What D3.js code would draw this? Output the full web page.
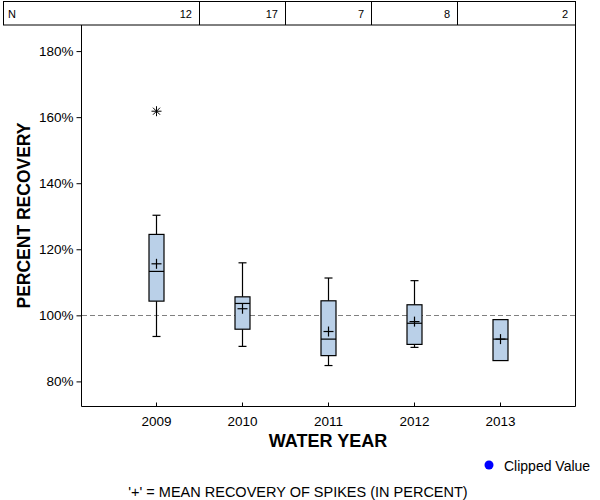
<!DOCTYPE html>
<html><head><meta charset="utf-8">
<script src="https://cdn.jsdelivr.net/npm/d3@7"></script>
<style>body{margin:0;background:#fff}svg{display:block;font-family:"Liberation Sans",Arial,sans-serif}</style>
</head><body><svg id="c" width="600" height="500"></svg>
<script>
const years = ["2009","2010","2011","2012","2013"];
const counts = [12, 17, 7, 8, 2];
const whiskerLow  = [93.6, 90.6, 84.8, 90.3, null];
const q1          = [104.3, 95.8, 87.8, 91.2, 86.3];
const median      = [113.3, 103.6, 92.8, 97.6, 92.8];
const q3          = [124.5, 105.6, 104.4, 103.2, 98.7];
const whiskerHigh = [130.3, 115.9, 111.3, 110.5, null];
const means       = [115.6, 102.0, 95.1, 98.1, 92.8];
const outliers    = [{year:"2009", value:161.8}];
const yTicks = [80, 100, 120, 140, 160, 180];
const refLine = 100;

const svg = d3.select("#c");
const L = 81, R = 575, T = 25, B = 406;
const x = d3.scalePoint().domain(years).range([L, R]).padding(0.872);
const y = d3.scaleLinear().domain([72.55, 187.9]).range([B, T]);
const boxW = 15, capW = 8, plusW = 5;

// N table
const tbl = svg.append("g");
tbl.append("rect").attr("x",3.5).attr("y",1.5).attr("width",R-3).attr("height",23.5)
  .attr("fill","none").attr("stroke","#000");
const step = x.step();
years.forEach((yr,i)=>{
  const right = i < years.length-1 ? x(yr)+step/2 : R;
  if (i < years.length-1) tbl.append("line").attr("x1",Math.round(right)+0.5).attr("x2",Math.round(right)+0.5)
    .attr("y1",1.5).attr("y2",25).attr("stroke","#000");
  tbl.append("text").attr("x",right-7).attr("y",17.5).attr("text-anchor","end")
    .attr("font-size",11).text(counts[i]);
});
tbl.append("text").attr("x",8).attr("y",17.5).attr("font-size",11).text("N");

// frame
svg.append("path").attr("d",`M${L+0.5},${T}V${B+0.5}H${R+0.5}V${T}`).attr("fill","none").attr("stroke","#000");

// y axis
const ya = svg.append("g").attr("transform",`translate(${L+0.5},0)`)
  .call(d3.axisLeft(y).tickValues(yTicks).tickSize(5).tickPadding(3).tickFormat(d=>d+"%"));
ya.select(".domain").remove();
ya.selectAll("text").attr("font-size",13.5).attr("font-family","Liberation Sans, Arial").attr("fill","#000");

// x axis (ticks inward)
const xa = svg.append("g").attr("transform",`translate(0,${B+0.5})`)
  .call(d3.axisBottom(x).tickSize(-4).tickPadding(10));
xa.select(".domain").remove();
xa.selectAll("text").attr("font-size",13.5).attr("font-family","Liberation Sans, Arial").attr("fill","#000");

// reference line
svg.append("line").attr("x1",L+1).attr("x2",R).attr("y1",Math.round(y(refLine))+0.5).attr("y2",Math.round(y(refLine))+0.5)
  .attr("stroke","#808080").attr("stroke-dasharray","5,3");

// boxes
const g = svg.append("g").attr("stroke","#000").attr("stroke-width",1.2);
years.forEach((yr,i)=>{
  const cx = Math.round(x(yr))+0.5;
  if (whiskerHigh[i] != null) {
    g.append("line").attr("x1",cx).attr("x2",cx).attr("y1",y(whiskerHigh[i])).attr("y2",y(q3[i]));
    g.append("line").attr("x1",cx-capW/2).attr("x2",cx+capW/2).attr("y1",y(whiskerHigh[i])).attr("y2",y(whiskerHigh[i]));
  }
  if (whiskerLow[i] != null) {
    g.append("line").attr("x1",cx).attr("x2",cx).attr("y1",y(q1[i])).attr("y2",y(whiskerLow[i]));
    g.append("line").attr("x1",cx-capW/2).attr("x2",cx+capW/2).attr("y1",y(whiskerLow[i])).attr("y2",y(whiskerLow[i]));
  }
  g.append("rect").attr("x",cx-boxW/2).attr("y",y(q3[i])).attr("width",boxW).attr("height",y(q1[i])-y(q3[i]))
    .attr("fill","#bad0e8");
  g.append("line").attr("x1",cx-boxW/2).attr("x2",cx+boxW/2).attr("y1",y(median[i])).attr("y2",y(median[i]));
  const my = y(means[i]);
  g.append("line").attr("x1",cx-plusW).attr("x2",cx+plusW).attr("y1",my).attr("y2",my);
  g.append("line").attr("x1",cx).attr("x2",cx).attr("y1",my-plusW).attr("y2",my+plusW);
});
// outliers as asterisks
outliers.forEach(o=>{
  const cx = Math.round(x(o.year))+0.5, cy = y(o.value), s = 5;
  const a = svg.append("g").attr("stroke","#000").attr("stroke-width",1);
  a.append("line").attr("x1",cx-s).attr("x2",cx+s).attr("y1",cy).attr("y2",cy);
  a.append("line").attr("x1",cx).attr("x2",cx).attr("y1",cy-s).attr("y2",cy+s);
  a.append("line").attr("x1",cx-s*0.7).attr("x2",cx+s*0.7).attr("y1",cy-s*0.7).attr("y2",cy+s*0.7);
  a.append("line").attr("x1",cx-s*0.7).attr("x2",cx+s*0.7).attr("y1",cy+s*0.7).attr("y2",cy-s*0.7);
});

// titles
svg.append("text").attr("transform",`translate(30,${(T+B)/2}) rotate(-90)`).attr("text-anchor","middle")
  .attr("font-size",17.5).attr("font-weight","bold").text("PERCENT RECOVERY");
svg.append("text").attr("x",(L+R)/2).attr("y",447).attr("text-anchor","middle")
  .attr("font-size",18).attr("font-weight","bold").text("WATER YEAR");

// legend
svg.append("circle").attr("cx",489).attr("cy",465).attr("r",4.5).attr("fill","#0000ff");
svg.append("text").attr("x",504).attr("y",471).attr("font-size",14).text("Clipped Value");
svg.append("text").attr("x",298).attr("y",497).attr("text-anchor","middle").attr("font-size",14.5)
  .text("'+' = MEAN RECOVERY OF SPIKES (IN PERCENT)");
</script></body></html>
